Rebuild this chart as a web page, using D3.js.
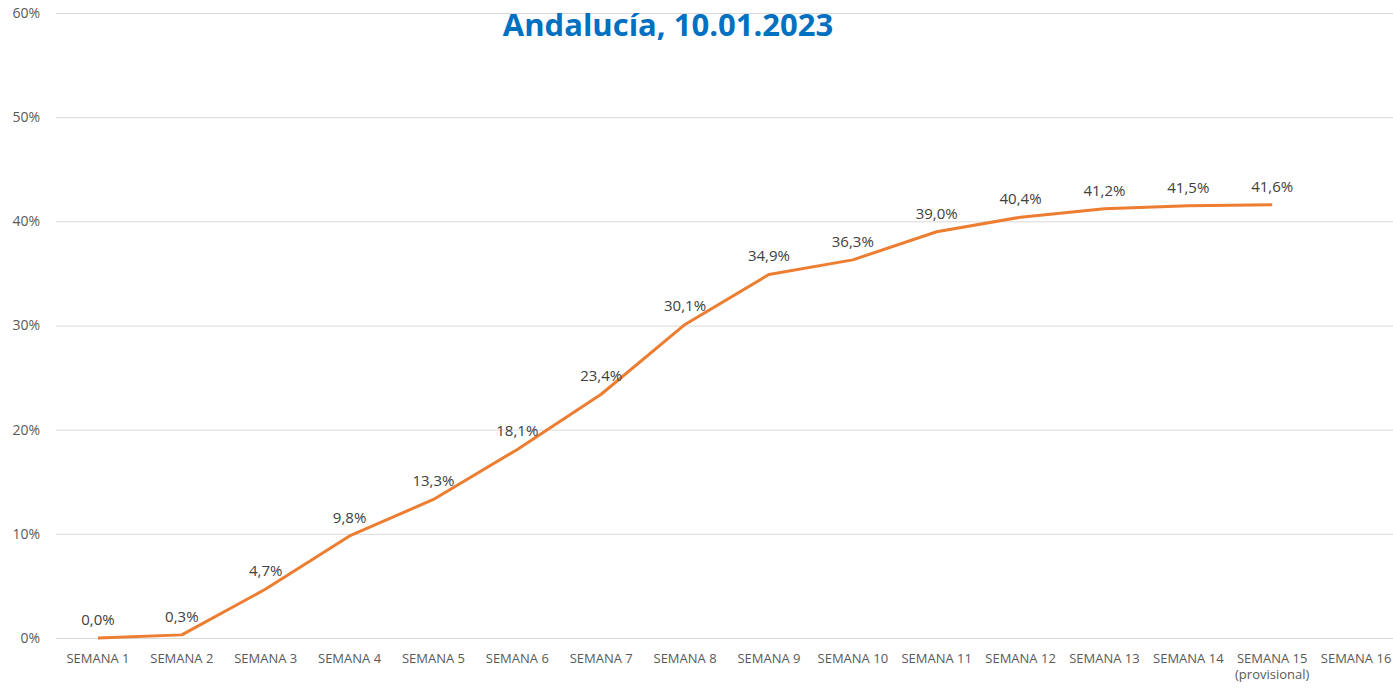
<!DOCTYPE html>
<html><head><meta charset="utf-8">
<script src="https://cdn.jsdelivr.net/npm/d3@7"></script>
<style>body{margin:0;background:#fff}svg{display:block}</style>
</head><body>
<script>
const categories = ["SEMANA 1","SEMANA 2","SEMANA 3","SEMANA 4","SEMANA 5","SEMANA 6","SEMANA 7","SEMANA 8","SEMANA 9","SEMANA 10","SEMANA 11","SEMANA 12","SEMANA 13","SEMANA 14","SEMANA 15","SEMANA 16"];
const subLabels = {"SEMANA 15":"(provisional)"};
const values = [0.0,0.3,4.7,9.8,13.3,18.1,23.4,30.1,34.9,36.3,39.0,40.4,41.2,41.5,41.6];
const yTicks = [0,10,20,30,40,50,60];
const title = "Andalucía, 10.01.2023";

const W = 1393, H = 690;
const m = {left:56, right:-5, top:13, bottom:52};
const svg = d3.select("body").append("svg").attr("width",W).attr("height",H);
const x = d3.scaleBand().domain(categories).range([m.left, W-m.right]);
const y = d3.scaleLinear().domain([0,60]).range([H-m.bottom, m.top]);
const font = "'Open Sans', Carlito, Calibri, sans-serif";
const cx = d => x(d)+x.bandwidth()/2;

// gridlines
svg.append("g").selectAll("line").data(yTicks).join("line")
  .attr("x1",m.left).attr("x2",W)
  .attr("y1",d=>y(d)+0.5).attr("y2",d=>y(d)+0.5)
  .attr("stroke","#d9d9d9").attr("stroke-width",1);

// y axis labels
svg.append("g").selectAll("text").data(yTicks).join("text")
  .attr("x",40).attr("y",d=>y(d)).attr("dy","0.35em")
  .attr("text-anchor","end").attr("font-family",font).attr("font-size",14)
  .attr("fill","#595959").text(d=>d+"%");

// x axis labels
const xl = svg.append("g").selectAll("text").data(categories).join("text")
  .attr("x",cx).attr("y",y(0)+25)
  .attr("text-anchor","middle").attr("font-family",font).attr("font-size",13)
  .attr("fill","#595959");
xl.append("tspan").text(d=>d);
xl.filter(d=>subLabels[d]).append("tspan")
  .attr("x",cx).attr("dy","1.2em").text(d=>subLabels[d]);

// line
svg.append("path").datum(values)
  .attr("d", d3.line().x((v,i)=>cx(categories[i])).y(v=>y(v)))
  .attr("fill","none").attr("stroke","#ED7D31").attr("stroke-width",3)
  .attr("stroke-linejoin","round");

// data labels
svg.append("g").selectAll("text").data(values).join("text")
  .attr("x",(v,i)=>cx(categories[i]))
  .attr("y",v=>y(v)-13)
  .attr("text-anchor","middle").attr("font-family",font).attr("font-size",15)
  .attr("fill","#404040")
  .text(v=>d3.format(".1f")(v).replace(".",",")+"%");

// title
svg.append("text").attr("x",668).attr("y",36)
  .attr("text-anchor","middle").attr("font-family",font).attr("font-weight","bold")
  .attr("font-size",31).attr("fill","#0070C0").text(title);
</script>
</body></html>
